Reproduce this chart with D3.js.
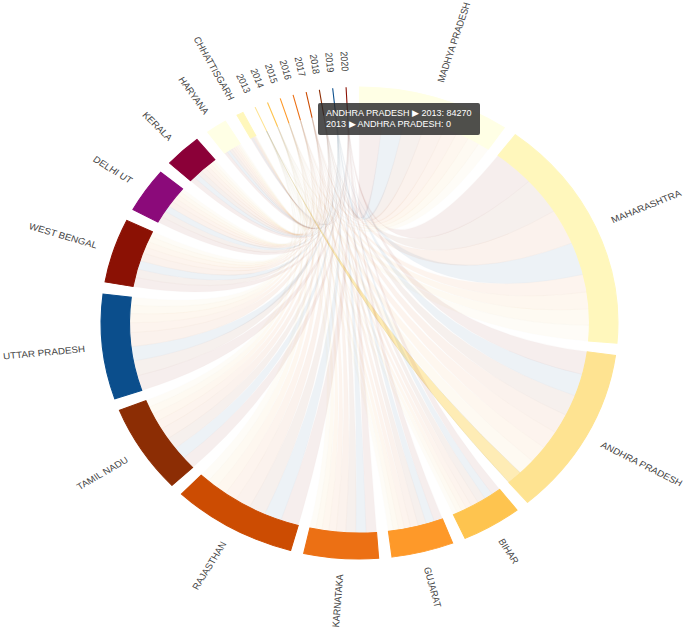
<!DOCTYPE html>
<html lang="en">
<head>
<meta charset="utf-8">
<title>States by year - chord diagram</title>
<script src="https://d3js.org/d3.v7.min.js"></script>
<style>
  html, body { margin: 0; padding: 0; background: #fff; }
  body { width: 685px; height: 632px; position: relative; overflow: hidden;
         font-family: "Liberation Sans", Arial, sans-serif; }
  .label { font-size: 9px; fill: #444; }
  .tooltip { position: absolute; padding: 5px 8px; background: rgba(40, 40, 40, 0.82);
             color: #fff; font-size: 9px; line-height: 11px; white-space: nowrap; border-radius: 2px; }
</style>
</head>
<body>
<div id="chart"></div>
<script>
// states (rows) and years (columns)
var states = ["MADHYA PRADESH", "MAHARASHTRA", "ANDHRA PRADESH", "BIHAR", "GUJARAT", "KARNATAKA",
  "RAJASTHAN", "TAMIL NADU", "UTTAR PRADESH", "WEST BENGAL", "DELHI UT", "KERALA", "HARYANA", "CHHATTISGARH"];
var years = ["2013", "2014", "2015", "2016", "2017", "2018", "2019", "2020"];

// value per state for 2013..2020
var counts = [
  [61200, 64800, 69100, 72500, 108300, 114900, 119700, 127400],
  [92350, 96800, 101450, 105200, 212600, 221900, 195300, 226400],
  [84270, 95400, 101200, 108900, 117300, 124600, 131800, 136500],
  [24100, 26300, 28700, 30900, 41200, 44800, 46100, 48900],
  [27400, 29100, 31800, 33600, 42700, 44900, 45300, 46200],
  [31800, 34200, 37500, 40100, 52300, 54600, 55100, 56400],
  [52300, 56900, 61400, 66800, 86200, 91500, 94700, 98200],
  [41800, 44600, 48200, 51900, 67400, 70300, 72100, 74700],
  [46100, 50300, 54800, 58200, 83900, 89400, 85700, 89600],
  [30200, 32800, 35100, 37900, 48600, 51300, 50400, 54700],
  [20400, 22100, 24300, 26200, 34100, 36500, 35800, 37600],
  [16300, 17400, 18900, 20100, 25800, 27100, 27300, 28100],
  [8900, 9600, 10400, 11200, 14700, 15300, 15600, 16300],
  [2700, 2900, 3200, 3500, 4600, 4800, 5000, 5300]
];

// palette, repeats after 12 entries
var palette = ["#ffffe5", "#fff7bc", "#fee391", "#fec44f", "#fe9929", "#ec7014",
  "#cc4c02", "#8c2d04", "#0b4e8c", "#8b1104", "#8b0a7a", "#8b0038"];

// the chord being hovered in the picture
var hovered = { source: "ANDHRA PRADESH", target: "2013" };

var width = 685, height = 632;
var outerRadius = 236, innerRadius = 210;
var cx = 359.5, cy = 323, stretchX = 1.095;

var names = states.concat(years);
var n = names.length;

// square matrix: state -> year carries the value, year -> state is 0
var matrix = names.map(function() { return new Array(n).fill(0); });
counts.forEach(function(row, i) {
  row.forEach(function(v, j) { matrix[i][states.length + j] = v; });
});

var color = function(i) { return palette[i % palette.length]; };

var chord = d3.chord()
  .padAngle(0.052)
  .sortSubgroups(d3.descending);
var chords = chord(matrix);

var arc = d3.arc().innerRadius(innerRadius).outerRadius(outerRadius);
var ribbon = d3.ribbon().radius(innerRadius);

var svg = d3.select("#chart").append("svg")
  .attr("width", width)
  .attr("height", height);

var g = svg.append("g")
  .attr("transform", "translate(" + cx + "," + cy + ") scale(" + stretchX + ",1)");

// ribbons, coloured by the year they run to
var ribbons = g.append("g")
  .selectAll("path")
  .data(chords)
  .join("path")
  .attr("d", ribbon)
  .style("fill", function(d) { return color(d.target.index); })
  .style("fill-opacity", 0.67)
  .style("stroke", function(d) { return d3.rgb(color(d.target.index)).darker(); })
  .style("stroke-opacity", 0.45)
  .style("stroke-width", 0.3);

// outer arcs
var group = g.append("g")
  .selectAll("g")
  .data(chords.groups)
  .join("g");

group.append("path")
  .attr("d", arc)
  .style("fill", function(d) { return color(d.index); })
  .style("stroke", function(d) { return color(d.index); });

group.append("text")
  .attr("class", "label")
  .each(function(d) { d.angle = (d.startAngle + d.endAngle) / 2; })
  .attr("dy", ".35em")
  .attr("transform", function(d) {
    return "rotate(" + (d.angle * 180 / Math.PI - 90) + ")" +
      "translate(" + (outerRadius + 16) + ")" +
      (d.angle > Math.PI ? "rotate(180)" : "");
  })
  .attr("text-anchor", function(d) { return d.angle > Math.PI ? "end" : null; })
  .text(function(d) { return names[d.index]; });

var tip = d3.select("body").append("div").attr("class", "tooltip").style("opacity", 0);

function highlight(d, x, y) {
  ribbons.style("opacity", function(c) { return c === d ? 1 : 0.1; });
  tip.style("opacity", 1)
    .style("left", x + "px")
    .style("top", y + "px")
    .html(names[d.source.index] + " &#9654; " + names[d.target.index] + ": " + d.source.value + "<br>" +
      names[d.target.index] + " &#9654; " + names[d.source.index] + ": " + d.target.value);
}

ribbons.on("mouseover", function(event, d) {
  highlight(d, event.pageX + 10, event.pageY - 30);
}).on("mouseout", function() {
  ribbons.style("opacity", 1);
  tip.style("opacity", 0);
});

// initial state: the hovered chord from the picture
var start = chords.find(function(c) {
  return names[c.source.index] === hovered.source && names[c.target.index] === hovered.target;
});
highlight(start, 318, 103);
</script>
</body>
</html>
